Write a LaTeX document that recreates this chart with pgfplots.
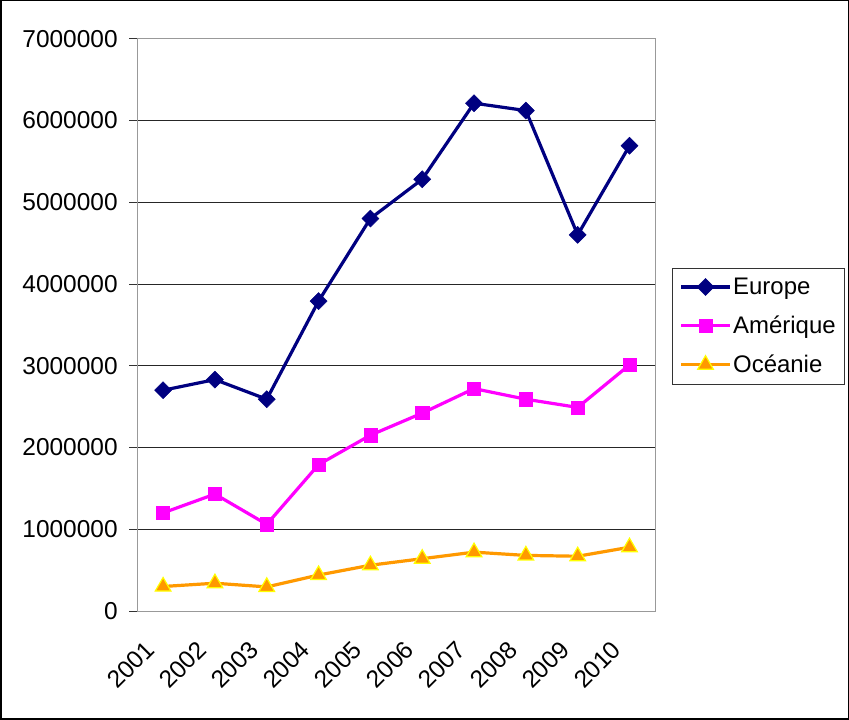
\documentclass[border=0pt]{standalone}
\usepackage{fontspec}
\setmainfont{Liberation Sans}
\usepackage{pgfplots}
\pgfplotsset{compat=1.18}
\definecolor{eur}{HTML}{000080}
\definecolor{ame}{HTML}{FF00FF}
\definecolor{oce}{HTML}{FF9900}
\definecolor{yel}{HTML}{FFFF00}
\begin{document}
\begin{tikzpicture}[x=1bp,y=1bp]
\draw[line width=1.5bp] (1.5,1.5) rectangle (847.5,718.5);
\begin{axis}[
  at={(137.7bp,109.3bp)}, anchor=south west,
  width=517.3bp, height=571.4bp, scale only axis,
  xmin=-0.5, xmax=9.5, ymin=0, ymax=7000000,
  axis line style={draw=gray!80, line width=1bp},
  xtick={0,...,9},
  xticklabels={2001,2002,2003,2004,2005,2006,2007,2008,2009,2010},
  major x tick style={draw=none},
  extra x ticks={-0.5,0.5,...,9.5},
  extra x tick labels={},
  extra x tick style={tick style={draw=black!80, line width=0.8bp}, major tick length=8bp, grid=none},
  ytick={0,1000000,...,7000000},
  ymajorgrids, grid style={black!85, line width=0.8bp},
  tick align=outside, major tick length=8bp,
  ytick style={draw=black!80, line width=0.8bp},
  xtick pos=bottom, ytick pos=left,
  scaled y ticks=false,
  /pgf/number format/.cd, fixed, precision=0, set thousands separator={}, assume math mode=true,
  /pgfplots/.cd,
  tick label style={font=\fontsize{24.5}{29}\selectfont},
  yticklabel style={xshift=-8bp},
  xticklabel style={xshift=-19bp, yshift=-20bp, rotate=45, anchor=north east, inner sep=0pt},
  legend style={at={(1.0329,0.600)}, anchor=north west, draw=black!80, line width=0.8bp,
    font=\fontsize{24}{28}\selectfont, row sep=16bp, inner xsep=7bp, inner ysep=8bp,
    legend cell align=left},
  legend image code/.code={\draw[mark repeat=2,mark phase=2] plot coordinates {(0bp,0bp) (24bp,0bp) (48bp,0bp)};},
  every axis plot/.append style={line width=3.2bp},
  clip=false,
]
\addplot[eur, mark=square*, mark size=6bp, mark options={rotate=45, fill=eur, line width=0.5bp}] coordinates {
 (0,2700000) (1,2830000) (2,2590000) (3,3790000) (4,4800000) (5,5280000) (6,6210000) (7,6120000) (8,4600000) (9,5690000)};
\addlegendentry{Europe}
\addplot[ame, mark=square*, mark size=6.6bp, mark options={fill=ame, line width=0.5bp}] coordinates {
 (0,1200000) (1,1430000) (2,1060000) (3,1790000) (4,2150000) (5,2420000) (6,2720000) (7,2590000) (8,2490000) (9,3010000)};
\addlegendentry{Amérique}
\addplot[oce, mark=triangle*, mark size=9bp, mark options={fill=oce, draw=yel, line width=1.2bp}] coordinates {
 (0,300000) (1,340000) (2,295000) (3,440000) (4,560000) (5,640000) (6,720000) (7,680000) (8,670000) (9,780000)};
\addlegendentry{Océanie}
\end{axis}
\end{tikzpicture}
\end{document}
